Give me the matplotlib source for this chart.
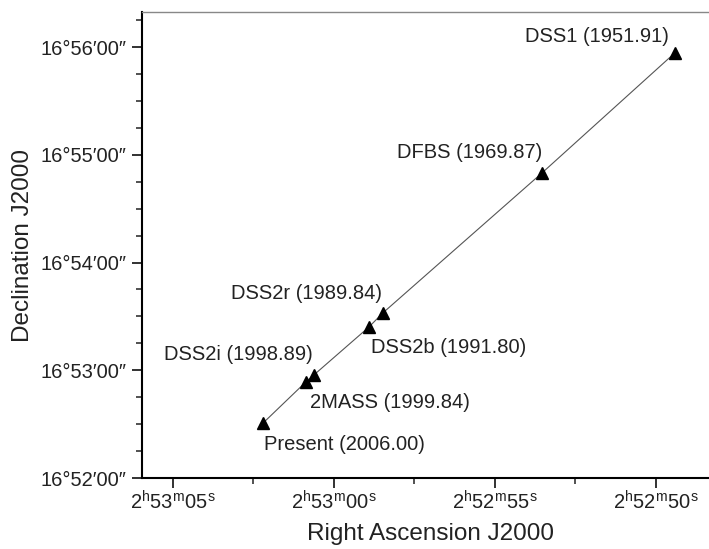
import matplotlib
matplotlib.use("Agg")
import matplotlib.pyplot as plt
from matplotlib.ticker import FuncFormatter, MultipleLocator

# Data: RA in seconds after 2h52m, Dec in arcsec after 16d52'
names = ["DSS1", "DFBS", "DSS2r", "DSS2b", "DSS2i", "2MASS", "Present"]
epochs = ["1951.91", "1969.87", "1989.84", "1991.80", "1998.89", "1999.84", "2006.00"]
ra_sec = [49.41, 53.54, 58.48, 58.91, 60.62, 60.87, 62.20]
dec_arcsec = [236.7, 169.8, 91.9, 84.1, 57.4, 53.5, 30.6]

plt.rcParams['font.family'] = ['Liberation Sans', 'DejaVu Sans']
plt.rcParams['mathtext.fontset'] = 'custom'
plt.rcParams['mathtext.rm'] = 'Liberation Sans'

fig = plt.figure(figsize=(7.09, 5.49), dpi=100)
ax = fig.add_axes([0.2003, 0.1293, 0.815, 0.8488])

ax.plot(ra_sec, dec_arcsec, color='#555555', lw=0.8, zorder=1)
ax.plot(ra_sec, dec_arcsec, ls='none', marker='^', ms=9, color='black', zorder=2)

# label offsets in pixels (dx, dy) and alignment
offsets = [(-6, 16, 'right'), (0, 21, 'right'), (-1, 19, 'right'), (2, -21, 'left'),
           (-1, 20, 'right'), (4, -21, 'left'), (1, -21, 'left')]
for n, e, x, y, (dx, dy, ha) in zip(names, epochs, ra_sec, dec_arcsec, offsets):
    ax.annotate(f"{n} ({e})", (x, y), xytext=(dx * 0.72, dy * 0.72),
                textcoords='offset points', ha=ha, va='center', fontsize=14.5,
                color='#222222')

ax.set_xlim(65.96, 48.01)
ax.set_ylim(0, 259.5)

ax.xaxis.set_major_locator(MultipleLocator(5))
ax.xaxis.set_minor_locator(MultipleLocator(2.5))
ax.yaxis.set_major_locator(MultipleLocator(60))
ax.yaxis.set_minor_locator(MultipleLocator(15))


def ra_fmt(v, pos):
    total = int(round(v)) + 52 * 60
    m, s = divmod(total, 60)
    return r"$\mathregular{2^{h}%02d^{m}%02d^{s}}$" % (m, s)


def dec_fmt(v, pos):
    total = int(round(v)) + 52 * 60
    m, s = divmod(total, 60)
    return f"16°{m:02d}′{s:02d}″"


ax.xaxis.set_major_formatter(FuncFormatter(ra_fmt))
ax.yaxis.set_major_formatter(FuncFormatter(dec_fmt))

ax.tick_params(which='major', direction='out', length=7, width=1.3, labelsize=14.5,
               colors='#222222')
ax.tick_params(which='minor', direction='out', length=4, width=1.1, colors='#222222')
ax.tick_params(axis='y', pad=4)
ax.tick_params(axis='x', pad=2)
ax.tick_params(top=False, right=False, which='both')

ax.spines['left'].set_linewidth(1.5)
ax.spines['bottom'].set_linewidth(1.5)
ax.spines['top'].set_linewidth(1.0)
ax.spines['top'].set_color('#888888')
ax.spines['right'].set_visible(False)

ax.set_xlabel("Right Ascension J2000", fontsize=17.5, color='#222222', labelpad=7)
ax.set_ylabel("Declination J2000", fontsize=17.5, color='#222222', labelpad=5)

plt.savefig("out.png", dpi=100)
